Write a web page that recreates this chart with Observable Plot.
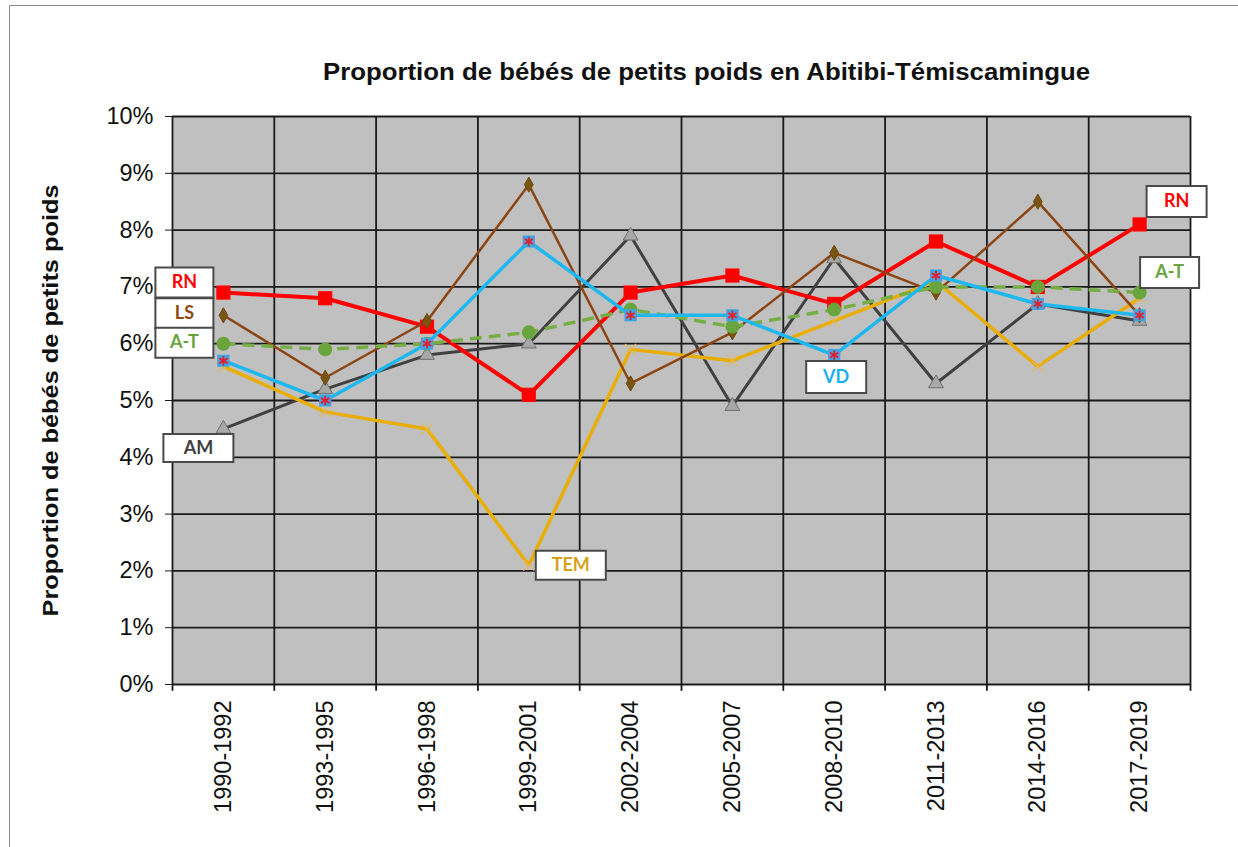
<!DOCTYPE html>
<html><head><meta charset="utf-8">
<script src="https://cdn.jsdelivr.net/npm/d3@7"></script>
<script src="https://cdn.jsdelivr.net/npm/@observablehq/plot@0.6"></script>
<style>
body{margin:0;background:#fff;}
#wrap{position:relative;width:1238px;height:847px;overflow:hidden;}
#chart{position:absolute;left:0;top:0;}
#border{position:absolute;left:9px;top:5px;width:1240px;height:870px;border:1.5px solid #8c8c8c;box-sizing:border-box;pointer-events:none}
</style></head><body>
<div id="wrap"><div id="chart"></div><div id="border"></div></div>
<script>
// ---- data ----
const periods = ["1990-1992","1993-1995","1996-1998","1999-2001","2002-2004","2005-2007","2008-2010","2011-2013","2014-2016","2017-2019"];
const RN  = [6.9, 6.8, 6.3, 5.1, 6.9, 7.2, 6.7, 7.8, 7.0, 8.1];
const LS  = [6.5, 5.4, 6.4, 8.8, 5.3, 6.2, 7.6, 6.9, 8.5, 6.5];
const AT  = [6.0, 5.9, 6.0, 6.2, 6.6, 6.3, 6.6, 7.0, 7.0, 6.9];
const VD  = [5.7, 5.0, 6.0, 7.8, 6.5, 6.5, 5.8, 7.2, 6.7, 6.5];
const AM  = [4.5, 5.2, 5.8, 6.0, 7.9, 4.9, 7.5, 5.3, 6.7, 6.4];
const TEM = [5.6, 4.8, 4.5, 2.1, 5.9, 5.7, 6.4, 7.1, 5.6, 6.8];
const yTicks = [0,1,2,3,4,5,6,7,8,9,10];
const title = "Proportion de bébés de petits poids en Abitibi-Témiscamingue";
const yTitle = "Proportion de bébés de petits poids";

// ---- layout ----
const W = 1238, H = 847, ML = 172, MR = 48, MT = 116, MB = 163;
const step = (W - ML - MR) / periods.length;
const FONT = "'Liberation Sans', Arial, sans-serif";
const LABFONT = "Lato, 'Open Sans', sans-serif";

const rows = arr => periods.map((p, i) => ({period: p, value: arr[i]}));

function boxSymbol(w, h) {
  return {draw(ctx) { ctx.moveTo(-w/2, -h/2); ctx.lineTo(w/2, -h/2); ctx.lineTo(w/2, h/2); ctx.lineTo(-w/2, h/2); ctx.closePath(); }};
}
// bow-tie style marker for VD
const bowtie = {draw(ctx) { const s = 6; ctx.moveTo(-s, -s); ctx.lineTo(s, s); ctx.lineTo(s, -s); ctx.lineTo(-s, s); ctx.closePath(); }};

// series drawn bottom to top
const series = [
  {name:"AM",  data:AM,  stroke:"#404040", sw:3,   dot:{symbol:"triangle", fill:"#a8a8a8", stroke:"#707070", r:5.5, strokeWidth:1}},
  {name:"TEM", data:TEM, stroke:"#e9ad07", sw:3.5, dot:{symbol:"times", fill:"none", stroke:"#e8b850", r:5, strokeWidth:1.2}},
  {name:"RN",  data:RN,  stroke:"#ff0000", sw:4,   dot:{symbol:"square", fill:"#ff0000", stroke:"none", r:8}},
  {name:"LS",  data:LS,  stroke:"#8b4513", sw:2.5, dot:{symbol:"diamond", fill:"#7a5510", stroke:"#6b4a10", r:4.6, strokeWidth:1}},
  {name:"A-T", data:AT,  stroke:"#76ae45", sw:3.5, dash:"12,7", dot:{symbol:"circle", fill:"#6aa43c", stroke:"none", r:7}},
  {name:"VD",  data:VD,  stroke:"#1db8f0", sw:3.5, dot:{symbol:"square", fill:"#36a8e6", stroke:"none", r:6.8}, extra:true}
];

const labels = [
  {name:"RN",  idx:0, dx:-39, dy:-10, w:58, h:30, color:"#ff0000"},
  {name:"LS",  idx:0, dx:-39, dy:-2,  w:58, h:30, color:"#8b4a14"},
  {name:"A-T", idx:0, dx:-39, dy:-1,  w:58, h:30, color:"#6aa43c"},
  {name:"AM",  idx:0, dx:-25, dy:19,  w:70, h:28, color:"#404040"},
  {name:"TEM", idx:3, dx:42,  dy:0,   w:70, h:29, color:"#d4a21a"},
  {name:"VD",  idx:6, dx:2,   dy:22,  w:60, h:32, color:"#1db0ee"},
  {name:"RN",  idx:9, dx:37,  dy:-23, w:60, h:31, color:"#ff0000"},
  {name:"A-T", idx:9, dx:30,  dy:-20, w:59, h:31, color:"#6aa43c"}
];
const byName = {RN, LS, "A-T": AT, VD, AM, TEM};

const marks = [
  Plot.frame({fill:"#c0c0c0", stroke:null}),
  Plot.ruleY(yTicks, {stroke:"#1a1a1a", strokeWidth:1.8}),
  Plot.ruleX(periods, {x:d => d, dx:-step/2, stroke:"#1a1a1a", strokeWidth:1.8}),
  Plot.ruleX([periods[periods.length-1]], {x:d => d, dx:step/2, stroke:"#1a1a1a", strokeWidth:1.8}),
  Plot.ruleX(periods, {x:d => d, dx:-step/2, y1:0, y2:-0.12, stroke:"#1a1a1a", strokeWidth:1.8}),
  Plot.ruleX([periods[periods.length-1]], {x:d => d, dx:step/2, y1:0, y2:-0.12, stroke:"#1a1a1a", strokeWidth:1.8}),
  Plot.axisY({ticks:yTicks, tickFormat:d => d + "%", tickSize:7, tickPadding:12, fontSize:23.5, fontFamily:FONT, fill:"#111", label:null, stroke:"#1a1a1a"}),
  Plot.axisX({tickRotate:-90, tickSize:0, tickPadding:16, fontSize:23.5, fontFamily:FONT, fill:"#111", label:null}),
  Plot.text([title], {frameAnchor:"top", dx:25, dy:-44, lineAnchor:"middle", textAnchor:"middle", fontSize:23, fontWeight:"bold", fontFamily:FONT, fill:"#111", className:"ctitle"}),
  Plot.text([yTitle], {frameAnchor:"left", dx:-122, rotate:-90, lineAnchor:"middle", textAnchor:"middle", fontSize:22, fontWeight:"bold", fontFamily:FONT, fill:"#111", className:"ytitle"})
];

for (const s of series) {
  marks.push(Plot.line(rows(s.data), {x:"period", y:"value", stroke:s.stroke, strokeWidth:s.sw, strokeDasharray:s.dash, strokeLinejoin:"miter", strokeLinecap:"butt"}));
  marks.push(Plot.dot(rows(s.data), {x:"period", y:"value", ...s.dot}));
  if (s.extra) {
    marks.push(Plot.dot(rows(s.data), {x:"period", y:"value", symbol:bowtie, r:6, fill:"#8a7fd0", fillOpacity:0.5, stroke:"none"}));
    marks.push(Plot.dot(rows(s.data), {x:"period", y:"value", symbol:"asterisk", stroke:"#e0202a", r:4.5, strokeWidth:1.8}));
  }
}

for (const l of labels) {
  const d = [{period: periods[l.idx], value: byName[l.name][l.idx], text: l.name}];
  marks.push(Plot.dot(d, {x:"period", y:"value", dx:l.dx, dy:l.dy, symbol:boxSymbol(l.w, l.h), r:10, fill:"#ffffff", stroke:"#4a4a4a", strokeWidth:2}));
  marks.push(Plot.text(d, {x:"period", y:"value", text:"text", dx:l.dx, dy:l.dy, fill:l.color, fontSize:18, fontWeight:"bold", fontFamily:LABFONT}));
}

const chart = Plot.plot({
  width: W, height: H,
  marginLeft: ML, marginRight: MR, marginTop: MT, marginBottom: MB,
  style: {background:"transparent", fontFamily: FONT},
  x: {type:"point", domain: periods, padding:0.5, round:false},
  y: {domain:[0,10]},
  marks
});
// stretch titles to the reference's text length
chart.querySelectorAll("g.ctitle text").forEach(t => { t.setAttribute("textLength", 767); t.setAttribute("lengthAdjust", "spacingAndGlyphs"); });
chart.querySelectorAll("g.ytitle text").forEach(t => { t.setAttribute("textLength", 432); t.setAttribute("lengthAdjust", "spacingAndGlyphs"); });
document.getElementById("chart").append(chart);
</script>
</body></html>
